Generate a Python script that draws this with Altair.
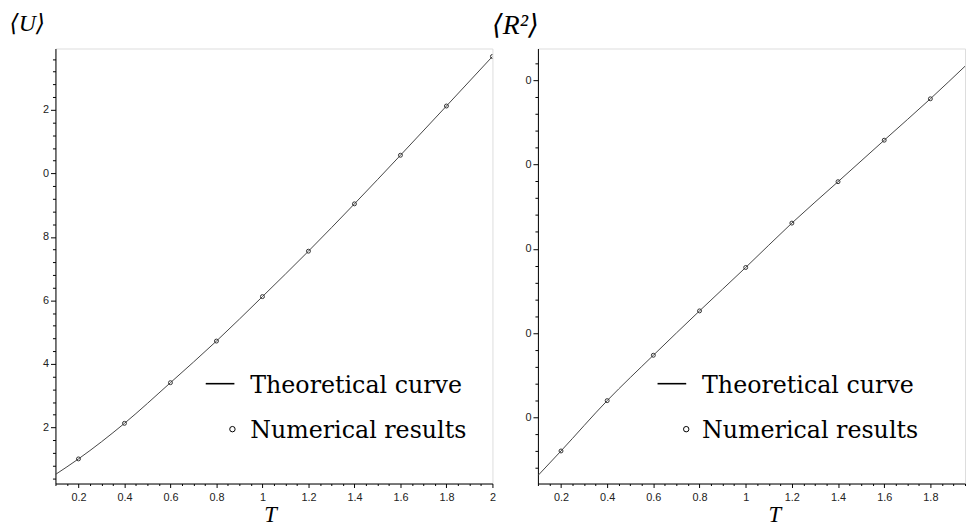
import altair as alt
import pandas as pd

# ---------------- data ----------------
# left panel: <U> vs T
T_curve_left = [0.1, 0.2, 0.4, 0.6, 0.8, 1.0, 1.2, 1.4, 1.6, 1.8, 2.0]
U_curve = [0.52, 1.01, 2.13, 3.41, 4.72, 6.12, 7.55, 9.04, 10.57, 12.12, 13.68]
T_pts_left = [0.2, 0.4, 0.6, 0.8, 1.0, 1.2, 1.4, 1.6, 1.8, 2.0]
U_pts = [1.01, 2.13, 3.41, 4.72, 6.12, 7.55, 9.04, 10.57, 12.12, 13.68]

# right panel: <R^2> vs T
T_curve_right = [0.1, 0.2, 0.4, 0.6, 0.8, 1.0, 1.2, 1.4, 1.6, 1.8, 1.96]
R2_curve = [3.1, 6.02, 11.99, 17.37, 22.63, 27.78, 33.04, 37.95, 42.87, 47.78, 51.9]
T_pts_right = [0.2, 0.4, 0.6, 0.8, 1.0, 1.2, 1.4, 1.6, 1.8]
R2_pts = [6.02, 11.99, 17.37, 22.63, 27.78, 33.04, 37.95, 42.87, 47.78]

# axis ticks and their (clipped) labels as they appear
x_major = [0.2, 0.4, 0.6, 0.8, 1, 1.2, 1.4, 1.6, 1.8, 2]
x_labels = ["0.2", "0.4", "0.6", "0.8", "1", "1.2", "1.4", "1.6", "1.8", "2"]
left_y_major = [2, 4, 6, 8, 10, 12]
left_y_labels = ["2", "4", "6", "8", "0", "2"]
right_y_major = [10, 20, 30, 40, 50]
right_y_labels = ["0", "0", "0", "0", "0"]

legend_labels = ["Theoretical curve", "Numerical results"]

SERIF = "DejaVu Serif, Liberation Serif, serif"
TSERIF = "Liberation Serif, DejaVu Serif, serif"
SANS = "Liberation Sans, Arial, sans-serif"
INK = "#444444"


def steps(lo, hi, step):
    out = []
    n = int(round((hi - lo) / step))
    for i in range(n + 1):
        out.append(round(lo + i * step, 4))
    return out


def label_expr(majors, labels):
    return (f"indexof({majors}, datum.value) >= 0 ? "
            f"{labels}[indexof({majors}, datum.value)] : ''")


def tick_size(majors, big, small):
    return {"condition": {"test": f"indexof({majors}, datum.value) >= 0", "value": big},
            "value": small}


def panel(Tc, Yc, Tp, Yp, xdom, ydom, y_major, y_labels, y_minor, ytitle, ytitle_size,
          ytitle_x, ytitle_y, xtitle_x, width, height, leg):
    x_ticks = sorted(set(steps(0.1, xdom[1], 0.05)) | set(x_major))
    x_ticks = [v for v in x_ticks if v <= xdom[1] + 1e-9]
    xmaj = [m for m in x_major if m <= xdom[1] + 1e-9]
    xlab = x_labels[:len(xmaj)]
    y_ticks = [v for v in steps(y_major[0] - 5 * y_minor, y_major[-1] + 5 * y_minor, y_minor)
               if ydom[0] <= v <= ydom[1]]

    xaxis = alt.Axis(values=x_ticks, tickCount=1000, labelExpr=label_expr(xmaj, xlab),
                     tickSize=tick_size(xmaj, 4, 2), grid=False, labelOverlap=False,
                     labelFlush=False, domainColor="black", tickColor="black",
                     labelFont=SANS, labelFontSize=11, labelColor="#222", labelPadding=4,
                     title="T", titleFont=TSERIF, titleFontStyle="italic",
                     titleFontWeight="normal", titleFontSize=23, titleColor="black",
                     titleAngle=0, titleAlign="center", titleBaseline="middle",
                     titleX=xtitle_x, titleY=31)
    yaxis = alt.Axis(values=y_ticks, tickCount=1000, labelExpr=label_expr(y_major, y_labels),
                     tickSize=tick_size(y_major, 5, 3), grid=False, labelOverlap=False,
                     labelFlush=False, domainColor="black", tickColor="black",
                     labelFont=SANS, labelFontSize=11, labelColor="#222", labelPadding=2,
                     title=ytitle, titleFont=TSERIF, titleFontWeight="normal",
                     titleFontStyle="italic",
                     titleFontSize=ytitle_size, titleColor="black", titleAngle=0,
                     titleAlign="left", titleBaseline="middle",
                     titleX=ytitle_x, titleY=ytitle_y)

    xs = alt.Scale(domain=xdom, nice=False, zero=False)
    ys = alt.Scale(domain=ydom, nice=False, zero=False)

    cdf = pd.DataFrame({"T": Tc, "Y": Yc})
    pdf = pd.DataFrame({"T": Tp, "Y": Yp})

    line = alt.Chart(cdf).mark_line(color=INK, strokeWidth=1, interpolate="monotone",
                                    clip=True).encode(
        x=alt.X("T:Q", scale=xs, axis=xaxis),
        y=alt.Y("Y:Q", scale=ys, axis=yaxis))
    pts = alt.Chart(pdf).mark_point(shape="circle", filled=False, size=16, color="#333",
                                    strokeWidth=1, opacity=1, clip=True).encode(
        x=alt.X("T:Q", scale=xs), y=alt.Y("Y:Q", scale=ys))

    ldf = pd.DataFrame({"label": legend_labels, "row": [0, 1]})
    dash = alt.Chart(ldf).transform_filter("datum.row == 0").mark_rule(
        color="black", strokeWidth=1.6).encode(
        x=alt.value(leg["dash_x"]), x2=alt.value(leg["dash_x2"]), y=alt.value(leg["dash_y"]))
    circ = alt.Chart(ldf).transform_filter("datum.row == 1").mark_point(
        shape="circle", filled=False, size=30, color="black", strokeWidth=1, opacity=1).encode(
        x=alt.value(leg["circ_x"]), y=alt.value(leg["circ_y"]))
    txt0 = alt.Chart(ldf).transform_filter("datum.row == 0").mark_text(
        align="left", baseline="alphabetic", font=SERIF, fontSize=24, color="black").encode(
        x=alt.value(leg["text_x"]), y=alt.value(leg["base0"]), text="label:N")
    txt1 = alt.Chart(ldf).transform_filter("datum.row == 1").mark_text(
        align="left", baseline="alphabetic", font=SERIF, fontSize=24, color="black").encode(
        x=alt.value(leg["text_x"]), y=alt.value(leg["base1"]), text="label:N")

    return alt.layer(line, pts, dash, circ, txt0, txt1).properties(width=width, height=height)


left = panel(T_curve_left, U_curve, T_pts_left, U_pts, [0.1, 2.0], [0.235, 13.93],
             left_y_major, left_y_labels, 0.4, "⟨U⟩", 24, -47, -25, 217, 442, 440,
             dict(dash_x=152, dash_x2=181, dash_y=339, circ_x=179, circ_y=385,
                  text_x=197, base0=348, base1=394))
right = panel(T_curve_right, R2_curve, T_pts_right, R2_pts, [0.1, 1.95], [2.16, 53.74],
              right_y_major, right_y_labels, 2, "⟨R²⟩", 28, -47, -23, 239, 432, 440,
              dict(dash_x=121, dash_x2=150, dash_y=339, circ_x=150, circ_y=385,
                   text_x=166, base0=348, base1=394))

chart = alt.hconcat(left, right, spacing=46, bounds="flush", padding=0).configure_view(
    stroke=None).configure(background="white")

chart.save("out.html", embed_options={"renderer": "svg", "actions": False})
